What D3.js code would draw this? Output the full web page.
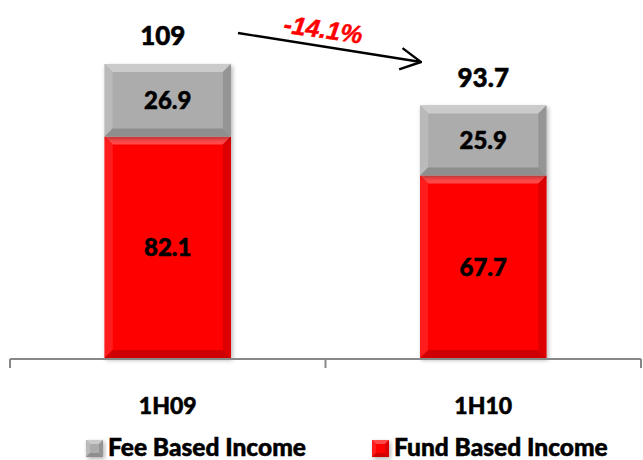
<!DOCTYPE html>
<html>
<head>
<meta charset="utf-8">
<script src="https://cdn.jsdelivr.net/npm/d3@7"></script>
<style>
  body { margin: 0; background: #fff; }
  text { font-family: Lato, "Open Sans", sans-serif; font-weight: 900; stroke: currentColor; stroke-width: 0.5; }
</style>
</head>
<body>
<div id="chart"></div>
<script>
// datos del gráfico
const periods = ['1H09', '1H10'];
const fundBased = [82.1, 67.7];
const feeBased = [26.9, 25.9];
const totals = ['109', '93.7'];
const changeLabel = '-14.1%';
const seriesNames = ['Fee Based Income', 'Fund Based Income'];

const width = 643, height = 460;
const svg = d3.select('#chart').append('svg')
    .attr('width', width)
    .attr('height', height);

const x = d3.scaleBand().domain(periods).range([10, 641]).paddingInner(0.6).paddingOuter(0.3);
const y = d3.scaleLinear().domain([0, 109]).range([358, 64]);

const colors = {
    fee: { base: '#acacac', light: '#cbcbcb', dark: '#959595', side: '#bababa', bottom: '#8e8e8e' },
    fund: { base: '#ff0000', light: '#ff4a4a', dark: '#dc0000', side: '#ff1c1c', bottom: '#d00000' }
};

// sombra
const defs = svg.append('defs');
const f = defs.append('filter').attr('id', 'shadow').attr('x', '-10%').attr('y', '-10%').attr('width', '130%').attr('height', '130%');
f.append('feDropShadow').attr('dx', 1.5).attr('dy', 2).attr('stdDeviation', 2).attr('flood-color', '#000').attr('flood-opacity', 0.3);

// bloque con bisel
function bevelBox(g, x0, y0, w, h, c, b) {
    const box = g.append('g').attr('filter', 'url(#shadow)');
    box.append('rect').attr('x', x0).attr('y', y0).attr('width', w).attr('height', h).attr('fill', c.base);
    const x1 = x0 + w, y1 = y0 + h;
    const poly = (pts, fill) => box.append('polygon').attr('points', pts.map(p => p.join(',')).join(' ')).attr('fill', fill);
    poly([[x0, y0], [x1, y0], [x1 - b, y0 + b], [x0 + b, y0 + b]], c.light);
    poly([[x0, y0], [x0 + b, y0 + b], [x0 + b, y1 - b], [x0, y1]], c.side);
    poly([[x1, y0], [x1, y1], [x1 - b, y1 - b], [x1 - b, y0 + b]], c.dark);
    poly([[x0, y1], [x0 + b, y1 - b], [x1 - b, y1 - b], [x1, y1]], c.bottom);
}

const bars = svg.append('g');
periods.forEach((p, i) => {
    const bx = x(p), bw = x.bandwidth();
    bevelBox(bars, bx, y(fundBased[i]), bw, y(0) - y(fundBased[i]), colors.fund, 8);
    bevelBox(bars, bx, y(fundBased[i] + feeBased[i]), bw, y(fundBased[i]) - y(fundBased[i] + feeBased[i]), colors.fee, 8);

    bars.append('text')
        .attr('x', bx + bw / 2).attr('y', (y(0) + y(fundBased[i])) / 2 + 9)
        .attr('text-anchor', 'middle').attr('font-size', 24).text(fundBased[i]);
    bars.append('text')
        .attr('x', bx + bw / 2).attr('y', (y(fundBased[i]) + y(fundBased[i] + feeBased[i])) / 2 + 9)
        .attr('text-anchor', 'middle').attr('font-size', 24).text(feeBased[i]);
    bars.append('text')
        .attr('x', bx + bw / 2 - (i === 0 ? 5 : 0)).attr('y', y(fundBased[i] + feeBased[i]) - 19)
        .attr('text-anchor', 'middle').attr('font-size', 26).text(totals[i]);
});

// eje x
const axisG = svg.append('g').attr('transform', `translate(0,${y(0) + 1})`);
axisG.append('line').attr('x1', 10).attr('x2', 641).attr('stroke', '#888').attr('stroke-width', 2);
[10, (x(periods[0]) + x.bandwidth() + x(periods[1])) / 2, 641].forEach(tx => {
    axisG.append('line').attr('x1', tx).attr('x2', tx).attr('y1', 0).attr('y2', 9)
        .attr('stroke', '#888').attr('stroke-width', 2);
});
periods.forEach(p => {
    axisG.append('text').attr('x', x(p) + x.bandwidth() / 2).attr('y', 55)
        .attr('text-anchor', 'middle').attr('font-size', 23).text(p);
});

// flecha de variación
defs.append('marker').attr('id', 'arrow').attr('viewBox', '0 0 10 10')
    .attr('refX', 9.5).attr('refY', 5).attr('markerWidth', 24).attr('markerHeight', 24)
    .attr('markerUnits', 'userSpaceOnUse').attr('orient', 'auto')
    .append('path').attr('d', 'M1,0.5 L9.5,5 L1,9.5').attr('fill', 'none')
    .attr('stroke', '#000').attr('stroke-width', 1).attr('stroke-linejoin', 'miter');
svg.append('line').attr('x1', 238).attr('y1', 33).attr('x2', 421).attr('y2', 62)
    .attr('stroke', '#000').attr('stroke-width', 2.4)
    .attr('marker-end', 'url(#arrow)');
svg.append('text').attr('transform', 'translate(322,38) rotate(8)')
    .attr('text-anchor', 'middle').attr('font-size', 25).attr('font-style', 'italic')
    .style('font-family', '"Liberation Sans", Arial, sans-serif').style('font-weight', 'bold')
    .attr('fill', '#ff0000').style('color', '#ff0000').text(changeLabel);

// leyenda
const legend = svg.append('g');
const legendItems = [
    { name: seriesNames[0], c: colors.fee, x: 86 },
    { name: seriesNames[1], c: colors.fund, x: 372 }
];
legendItems.forEach(it => {
    bevelBox(legend, it.x, 440, 17, 17, it.c, 4);
    legend.append('text').attr('x', it.x + 22).attr('y', 456).attr('font-size', 24.5).text(it.name);
});
</script>
</body>
</html>
